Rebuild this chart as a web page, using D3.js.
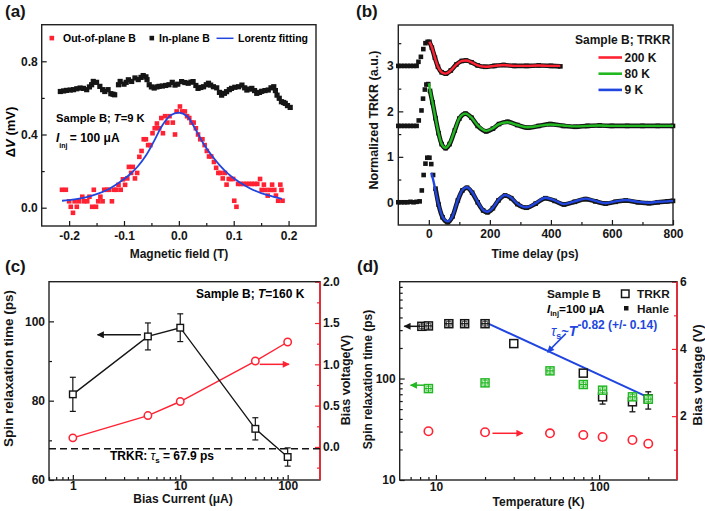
<!DOCTYPE html>
<html><head><meta charset="utf-8">
<script src="https://cdn.jsdelivr.net/npm/d3@7"></script>
<style>
body{margin:0;background:#fff;}
svg{display:block;}
</style></head><body>
<svg id="chart" width="705" height="511"></svg>
<script>
// ================= DATA =================
// (a) Hanle: out-of-plane B (red), in-plane B (black), Lorentz fit
const outPlaneB = [-0.213,-0.206,-0.200,-0.197,-0.193,-0.190,-0.186,-0.182,-0.176,-0.173,-0.167,-0.163,-0.158,-0.155,-0.151,-0.147,-0.143,-0.139,-0.136,-0.131,-0.127,-0.122,-0.118,-0.114,-0.110,-0.106,-0.102,-0.098,-0.094,-0.091,-0.087,-0.084,-0.080,-0.076,-0.072,-0.068,-0.064,-0.060,-0.056,-0.052,-0.048,-0.044,-0.040,-0.036,-0.032,-0.029,-0.025,-0.021,-0.017,-0.011,-0.007,-0.004,0.002,0.006,0.011,0.015,0.019,0.023,0.027,0.031,0.035,0.039,0.043,0.047,0.051,0.055,0.059,0.064,0.068,0.072,0.076,0.080,0.084,0.087,0.091,0.095,0.099,0.101,0.105,0.108,0.113,0.118,0.123,0.128,0.133,0.138,0.143,0.148,0.151,0.155,0.158,0.162,0.166,0.170,0.174,0.177,0.181,0.185,0.187,0.189];
const outPlaneV = [0.098,0.098,0.035,0.005,-0.028,0.035,0.005,0.035,0.060,0.035,0.035,0.060,0.005,0.098,0.005,0.035,0.060,0.035,0.098,0.098,0.098,0.035,0.098,0.098,0.125,0.098,0.155,0.125,0.160,0.223,0.190,0.223,0.160,0.190,0.278,0.310,0.374,0.374,0.342,0.342,0.407,0.434,0.460,0.434,0.490,0.407,0.500,0.465,0.500,0.465,0.400,0.526,0.553,0.526,0.526,0.500,0.490,0.465,0.465,0.434,0.400,0.374,0.374,0.342,0.310,0.280,0.280,0.250,0.218,0.190,0.190,0.160,0.190,0.126,0.157,0.157,0.157,0.038,0.005,0.130,0.130,0.130,0.130,0.130,0.130,0.130,0.130,0.157,0.097,0.126,0.097,0.066,0.097,0.126,0.097,0.066,0.038,0.126,0.097,0.038];
const inPlaneB = [-0.216,-0.210,-0.205,-0.198,-0.192,-0.186,-0.180,-0.174,-0.168,-0.163,-0.159,-0.156,-0.150,-0.144,-0.139,-0.135,-0.129,-0.124,-0.120,-0.117,-0.110,-0.107,-0.100,-0.096,-0.092,-0.086,-0.080,-0.074,-0.069,-0.065,-0.060,-0.058,-0.054,-0.050,-0.045,-0.040,-0.036,-0.030,-0.024,-0.018,-0.012,-0.007,-0.002,0.005,0.011,0.017,0.022,0.026,0.031,0.035,0.040,0.045,0.050,0.054,0.058,0.063,0.069,0.074,0.078,0.083,0.087,0.092,0.096,0.102,0.109,0.115,0.120,0.124,0.129,0.133,0.138,0.142,0.147,0.151,0.157,0.163,0.168,0.173,0.176,0.179,0.183,0.187,0.191,0.194,0.198,0.203];
const inPlaneV = [0.635,0.638,0.641,0.643,0.645,0.650,0.654,0.652,0.645,0.660,0.672,0.690,0.685,0.663,0.645,0.635,0.645,0.623,0.620,0.617,0.672,0.690,0.675,0.685,0.699,0.690,0.709,0.700,0.712,0.722,0.715,0.700,0.672,0.660,0.654,0.660,0.663,0.665,0.668,0.672,0.685,0.670,0.675,0.689,0.684,0.680,0.686,0.689,0.668,0.652,0.657,0.661,0.672,0.680,0.670,0.661,0.655,0.630,0.615,0.625,0.634,0.645,0.652,0.658,0.661,0.670,0.655,0.643,0.648,0.652,0.640,0.625,0.630,0.636,0.640,0.643,0.655,0.661,0.640,0.615,0.598,0.579,0.575,0.570,0.558,0.548];
const lorentzB = [-0.213,-0.19,-0.17,-0.15,-0.13,-0.11,-0.09,-0.075,-0.06,-0.045,-0.03,-0.015,0,0.015,0.03,0.045,0.06,0.075,0.09,0.11,0.13,0.15,0.17,0.188];
const lorentzV = [0.038,0.046,0.057,0.074,0.098,0.135,0.18,0.225,0.285,0.365,0.45,0.505,0.52,0.50,0.43,0.35,0.285,0.23,0.185,0.14,0.105,0.08,0.062,0.048];
const aXTicks = [-0.2,-0.1,0,0.1,0.2], aXLabels = ["-0.2","-0.1","0.0","0.1","0.2"];
const aYTicks = [0,0.4,0.8], aYLabels = ["0.0","0.4","0.8"];

// (b) TRKR traces (black data) and fits
const t9 = [-100,-90,-80,-70,-60,-50,-40,-30,-23,-17,-11,-5,2,8,14,22,32,45,62,78,95,110,125,142,160,178,192,210,228,250,270,290,320,350,382,412,443,478,513,545,579,612,645,685,721,750,782,800];
const v9 = [0,0,0,0,0.01,0,0.01,0.02,0.26,0.6,0.85,0.98,0.98,0.84,0.6,0.3,-0.05,-0.33,-0.44,-0.31,0.04,0.26,0.32,0.21,0.0,-0.18,-0.22,-0.13,0.04,0.15,0.09,-0.04,-0.12,-0.03,0.09,0.03,-0.05,0.01,0.07,0.02,-0.03,0.01,0.04,0.0,-0.02,0.0,0.02,0.03];
const fit9T = [8,14,22,32,45,62,78,95,110,125,142,160,178,192,210,228,250,270,290,320,350,382,412,443,478,513,545,579,612,645,685,721,750,782,800];
const fit9V = [0.65,0.5,0.25,-0.05,-0.32,-0.42,-0.3,0.05,0.27,0.33,0.22,0.01,-0.17,-0.21,-0.12,0.05,0.16,0.1,-0.03,-0.11,-0.02,0.1,0.04,-0.04,0.02,0.08,0.03,-0.02,0.02,0.05,0.01,-0.01,0.01,0.02,0.03];
const t80 = [-100,-90,-80,-70,-60,-50,-40,-33,-24,-19,-13,-8,-2,4,12,22,32,42,55,68,85,100,120,140,160,188,210,230,258,290,325,360,398,440,480,520,560,600,650,700,750,800];
const v80 = [1.68,1.68,1.68,1.68,1.68,1.68,1.68,1.8,2.02,2.28,2.48,2.59,2.6,2.45,2.2,1.85,1.52,1.28,1.19,1.28,1.58,1.84,1.95,1.86,1.68,1.56,1.62,1.72,1.77,1.7,1.64,1.68,1.72,1.68,1.66,1.68,1.69,1.68,1.68,1.68,1.68,1.68];
const fit80T = [0,4,12,22,32,42,55,68,85,100,120,140,160,188,210,230,258,290,325,360,398,440,480,520,560,600,650,700,750,800];
const fit80V = [2.62,2.47,2.2,1.85,1.52,1.28,1.2,1.29,1.59,1.85,1.95,1.86,1.69,1.57,1.63,1.72,1.76,1.7,1.65,1.68,1.71,1.69,1.67,1.68,1.69,1.68,1.68,1.68,1.68,1.68];
const t200 = [-100,-90,-80,-70,-60,-50,-40,-34,-26,-18,-11,-4,2,10,20,30,42,56,72,90,108,122,140,160,185,215,245,280,320,360,400,431];
const v200 = [3.0,3.0,3.0,3.0,3.0,3.0,3.0,3.09,3.2,3.37,3.5,3.53,3.53,3.4,3.18,2.98,2.86,2.83,2.9,3.03,3.11,3.12,3.08,3.01,2.98,3.0,3.02,3.0,3.0,3.01,3.0,2.99];
const fit200T = [2,10,20,30,42,56,72,90,108,122,140,160,185,215,245,280,320,360,400,431];
const fit200V = [3.53,3.41,3.18,2.98,2.86,2.83,2.9,3.03,3.11,3.12,3.08,3.01,2.98,3.0,3.02,3.0,3.0,3.01,3.0,3.0];
const bXTicks = [0,200,400,600,800], bYTicks = [0,1,2,3];
const bLegend = ["200 K","80 K","9 K"];

// (c) bias-current dependence
const currentC = [1,5,10,50,100];
const tauC = [81.6,96.2,98.4,72.9,65.8];
const tauErrC = [4.3,3.4,3.5,2.8,2.3];
const biasC = [0.11,0.38,0.55,1.04,1.27];
const trkrTauC = 67.9;
const cXTicks = [1,10,100];
const cYTicks = [60,80,100];
const cRTicks = [0,0.5,1.0,1.5,2.0], cRLabels = ["0.0","0.5","1.0","1.5","2.0"];

// (d) temperature dependence
const lowT = [8.2,9,12,15,20];
const lowTau = [327,330,347,347,347];
const trkrT = [30,80,105,160,200];
const trkrTau = [221,113,66,59,63];
const trkrErrLo = [null,null,56,47,50];
const trkrErrHi = [null,null,80,70,74];
const hanleT = [9,20,50,80,105,160,200];
const hanleTau = [79.6,90.6,119,87.3,76.8,66,62.6];
const biasT = [9,20,50,80,105,160,200];
const biasD = [1.55,1.52,1.49,1.44,1.38,1.29,1.18];
const fitDT = [20,205];
const fitDTau = [360,64];
const dXTicks = [10,100], dYTicks = [10,100], dRTicks = [2,4,6];

// ================= DRAWING =================
const F = '"Liberation Sans", Arial, Helvetica, sans-serif';
const svg = d3.select("#chart").attr("font-family", F).attr("font-weight", "bold");
const RED = "#ff2233", BLUE = "#2146e0", GREEN = "#22b822", INK = "#151515";

const defs = svg.append("defs");
function arrowMarker(id, color){
  defs.append("marker").attr("id", id).attr("viewBox","0 0 10 10").attr("refX",9).attr("refY",5)
    .attr("markerWidth",9).attr("markerHeight",7).attr("markerUnits","userSpaceOnUse").attr("orient","auto")
    .append("path").attr("d","M0,0L10,5L0,10Z").attr("fill",color);
}
arrowMarker("ak", INK); arrowMarker("ar", RED); arrowMarker("ag", GREEN); arrowMarker("ab", BLUE);

function addAxis(gen, tx, ty, color){
  const g = svg.append("g").attr("transform", `translate(${tx},${ty})`).call(gen);
  g.attr("font-family", F).attr("font-size", 12).attr("font-weight", "bold");
  g.select(".domain").remove();
  g.selectAll(".tick line").attr("stroke", color || INK).attr("stroke-width", 1.2);
  g.selectAll(".tick text").attr("fill", INK);
  return g;
}
function frame(x0, x1, y0, y1, rightColor){
  svg.append("rect").attr("x", x0).attr("y", y1).attr("width", x1 - x0).attr("height", y0 - y1)
    .attr("fill","none").attr("stroke", "#222").attr("stroke-width", 1.4);
  if (rightColor) svg.append("line").attr("x1", x1).attr("x2", x1).attr("y1", y1).attr("y2", y0)
    .attr("stroke", rightColor).attr("stroke-width", 1.6);
}
function label(x, y, str, size, rot, anchor){
  const t = svg.append("text").attr("font-size", size).attr("fill", INK)
    .attr("text-anchor", anchor || "middle").text(str);
  if (rot) t.attr("transform", `translate(${x},${y}) rotate(${rot})`); else t.attr("x", x).attr("y", y);
  return t;
}
function panelTag(x, y, s){ label(x, y, s, 17, 0, "start"); }
const logMinor = (lo, hi) => { const out=[]; for (let e=-1;e<4;e++) for (let m=2;m<10;m++){ const v=m*Math.pow(10,e); if (v>lo && v<hi) out.push(v);} return out; };

// ---------- Panel (a) ----------
{
  const x = d3.scaleLinear([-0.25, 0.25], [41.7, 316]);
  const y = d3.scaleLinear([-0.1, 1.0], [226, 24.7]);
  addAxis(d3.axisBottom(x).tickValues(aXTicks).tickSize(-5).tickPadding(5).tickFormat((d,i)=>aXLabels[i]), 0, 226);
  addAxis(d3.axisBottom(x).tickValues([-0.15,-0.05,0.05,0.15]).tickSize(-3).tickFormat(""), 0, 226);
  addAxis(d3.axisLeft(y).tickValues(aYTicks).tickSize(-5).tickPadding(4).tickFormat((d,i)=>aYLabels[i]), 41.7, 0);
  addAxis(d3.axisLeft(y).tickValues([0.2,0.6]).tickSize(-3).tickFormat(""), 41.7, 0);
  frame(41.7, 316, 226, 24.7);
  const gIn = svg.append("g");
  gIn.selectAll("rect").data(inPlaneB.map((b,i)=>[b,inPlaneV[i]])).join("rect")
    .attr("x", d=>x(d[0])-2.6).attr("y", d=>y(d[1])-2.6).attr("width",5.2).attr("height",5.2).attr("fill", INK);
  const gOut = svg.append("g");
  gOut.selectAll("rect").data(outPlaneB.map((b,i)=>[b,outPlaneV[i]])).join("rect")
    .attr("x", d=>x(d[0])-2.3).attr("y", d=>y(d[1])-2.3).attr("width",4.6).attr("height",4.6).attr("fill", RED);
  svg.append("path").datum(lorentzB.map((b,i)=>[b,lorentzV[i]]))
    .attr("d", d3.line().x(d=>x(d[0])).y(d=>y(d[1])).curve(d3.curveCatmullRom))
    .attr("fill","none").attr("stroke", BLUE).attr("stroke-width", 1.8);
  // legend
  const lg = svg.append("g").attr("font-size", 10.5);
  lg.append("rect").attr("x",49.5).attr("y",35.8).attr("width",4.6).attr("height",4.6).attr("fill",RED);
  lg.append("text").attr("x",63).attr("y",42).text("Out-of-plane B");
  lg.append("rect").attr("x",149.5).attr("y",35.8).attr("width",4.6).attr("height",4.6).attr("fill",INK);
  lg.append("text").attr("x",159).attr("y",42).text("In-plane B");
  lg.append("line").attr("x1",216.5).attr("x2",233.5).attr("y1",38.3).attr("y2",38.3).attr("stroke",BLUE).attr("stroke-width",1.5);
  lg.append("text").attr("x",238).attr("y",42).text("Lorentz fitting");
  // annotations
  const t1 = svg.append("text").attr("x",56).attr("y",121.5).attr("font-size",11.2);
  t1.append("tspan").text("Sample B; ");
  t1.append("tspan").attr("font-style","italic").text("T");
  t1.append("tspan").text("=9 K");
  const t2 = svg.append("text").attr("x",56).attr("y",141.5).attr("font-size",12);
  t2.append("tspan").attr("font-style","italic").text("I");
  t2.append("tspan").attr("font-size",7).attr("dy",6).text("inj");
  t2.append("tspan").attr("dy",-6).attr("dx",-1).text(" = 100 μA");
  label(179, 258, "Magnetic field (T)", 12);
  const yl = svg.append("text").attr("transform","translate(15,132) rotate(-90)").attr("text-anchor","middle").attr("font-size",13);
  yl.append("tspan").text("Δ");
  yl.append("tspan").attr("font-style","italic").text("V");
  yl.append("tspan").text(" (mV)");
  panelTag(5, 17, "(a)");
}

// ---------- Panel (b) ----------
{
  const x = d3.scaleLinear([-100, 800], [398.3, 673]);
  const y = d3.scaleLinear([-0.5, 3.9], [225, 25]);
  addAxis(d3.axisBottom(x).tickValues(bXTicks).tickSize(-5).tickPadding(4.5).tickFormat(d=>d), 0, 225);
  addAxis(d3.axisBottom(x).tickValues([100,300,500,700]).tickSize(-3).tickFormat(""), 0, 225);
  addAxis(d3.axisLeft(y).tickValues(bYTicks).tickSize(-5).tickPadding(4.5).tickFormat(d=>d), 398.3, 0);
  addAxis(d3.axisLeft(y).tickValues([0.5,1.5,2.5,3.5]).tickSize(-3).tickFormat(""), 398.3, 0);
  frame(398.3, 673, 225, 25);
  const traces = [
    {t:t200, v:v200, ft:fit200T, fv:fit200V, c:RED, band:0},
    {t:t80, v:v80, ft:fit80T, fv:fit80V, c:GREEN, band:0},
    {t:t9, v:v9, ft:fit9T, fv:fit9V, c:BLUE, band:20}
  ];
  const line = d3.line().x(d=>x(d[0])).y(d=>y(d[1])).curve(d3.curveMonotoneX);
  traces.forEach(tr => {
    const pts = tr.t.map((t,i)=>[t, tr.v[i]]);
    svg.append("path").datum(pts.filter(p=>p[0]>=tr.band)).attr("d", line)
      .attr("fill","none").attr("stroke", INK).attr("stroke-width", 4.6);
    svg.append("g").selectAll("rect").data(pts).join("rect")
      .attr("x", d=>x(d[0])-2.3).attr("y", d=>y(d[1])-2.3).attr("width",4.6).attr("height",4.6).attr("fill",INK);
  });
  traces.forEach(tr => {
    svg.append("path").datum(tr.ft.map((t,i)=>[t, tr.fv[i]])).attr("d", line)
      .attr("fill","none").attr("stroke", tr.c).attr("stroke-width", 2.4);
  });
  // legend
  label(575, 44, "Sample B; TRKR", 12, 0, "start");
  [RED, GREEN, BLUE].forEach((c,i) => {
    const yy = 57.5 + i*16.2;
    svg.append("line").attr("x1",598.5).attr("x2",622).attr("y1",yy).attr("y2",yy).attr("stroke",c).attr("stroke-width",2.6);
    label(624.5, yy+4.3, bLegend[i], 12, 0, "start");
  });
  label(535, 258, "Time delay (ps)", 12);
  label(378, 120, "Normalized TRKR (a.u.)", 12.5, -90);
  panelTag(356, 17, "(b)");
}

// ---------- Panel (c) ----------
{
  const x = d3.scaleLog([0.6, 200], [49, 320]);
  const yL = d3.scaleLinear([60, 110], [480, 281.7]);
  const yR = d3.scaleLinear([-0.4, 2.0], [480, 281.7]);
  addAxis(d3.axisBottom(x).tickValues(cXTicks).tickSize(-5).tickPadding(1.5).tickFormat(d=>d), 0, 480);
  addAxis(d3.axisBottom(x).tickValues(logMinor(0.6,200)).tickSize(-3).tickFormat(""), 0, 480);
  addAxis(d3.axisLeft(yL).tickValues(cYTicks).tickSize(-5).tickPadding(4).tickFormat(d=>d), 49, 0);
  addAxis(d3.axisLeft(yL).tickValues([70,90]).tickSize(-3).tickFormat(""), 49, 0);
  addAxis(d3.axisRight(yR).tickValues(cRTicks).tickSize(-5).tickPadding(3).tickFormat((d,i)=>cRLabels[i]), 320, 0, RED);
  addAxis(d3.axisRight(yR).tickValues([-0.25,0.25,0.75,1.25,1.75]).tickSize(-3).tickFormat(""), 320, 0, RED);
  frame(49, 320, 480, 281.7, RED);
  // dashed TRKR reference
  svg.append("line").attr("x1",49).attr("x2",320).attr("y1",yL(trkrTauC)).attr("y2",yL(trkrTauC))
    .attr("stroke",INK).attr("stroke-width",1.5).attr("stroke-dasharray","7,4");
  // red bias voltage
  const ptsR = currentC.map((c,i)=>[c, biasC[i]]);
  svg.append("path").datum(ptsR).attr("d", d3.line().x(d=>x(d[0])).y(d=>yR(d[1])))
    .attr("fill","none").attr("stroke",RED).attr("stroke-width",1.4);
  svg.append("g").selectAll("circle").data(ptsR).join("circle")
    .attr("cx",d=>x(d[0])).attr("cy",d=>yR(d[1])).attr("r",3.7).attr("fill","#fff").attr("stroke",RED).attr("stroke-width",1.5);
  // black spin relaxation
  const ptsK = currentC.map((c,i)=>[c, tauC[i], tauErrC[i]]);
  svg.append("path").datum(ptsK).attr("d", d3.line().x(d=>x(d[0])).y(d=>yL(d[1])))
    .attr("fill","none").attr("stroke",INK).attr("stroke-width",1.4);
  const eb = svg.append("g").attr("stroke",INK).attr("stroke-width",1.2);
  ptsK.forEach(d => {
    const cx = x(d[0]);
    eb.append("line").attr("x1",cx).attr("x2",cx).attr("y1",yL(d[1]+d[2])).attr("y2",yL(d[1]-d[2]));
    eb.append("line").attr("x1",cx-3).attr("x2",cx+3).attr("y1",yL(d[1]+d[2])).attr("y2",yL(d[1]+d[2]));
    eb.append("line").attr("x1",cx-3).attr("x2",cx+3).attr("y1",yL(d[1]-d[2])).attr("y2",yL(d[1]-d[2]));
  });
  svg.append("g").selectAll("rect").data(ptsK).join("rect")
    .attr("x",d=>x(d[0])-3.3).attr("y",d=>yL(d[1])-3.3).attr("width",6.6).attr("height",6.6)
    .attr("fill","#fff").attr("stroke",INK).attr("stroke-width",1.4);
  // arrows
  svg.append("line").attr("x1",x(4.3)).attr("x2",x(1.7)).attr("y1",yL(96.6)).attr("y2",yL(96.6))
    .attr("stroke",INK).attr("stroke-width",1.5).attr("marker-end","url(#ak)");
  svg.append("line").attr("x1",x(55)).attr("x2",x(103)).attr("y1",yR(1.0)).attr("y2",yR(1.0))
    .attr("stroke",RED).attr("stroke-width",1.5).attr("marker-end","url(#ar)");
  // texts
  const s1 = svg.append("text").attr("x",196).attr("y",297.5).attr("font-size",12);
  s1.append("tspan").text("Sample B;  ");
  s1.append("tspan").attr("font-style","italic").text("T");
  s1.append("tspan").text("=160 K");
  const s2 = svg.append("text").attr("x",110).attr("y",460).attr("font-size",12);
  s2.append("tspan").text("TRKR: ");
  s2.append("tspan").attr("font-style","italic").attr("font-weight","normal").text("τ");
  s2.append("tspan").attr("font-size",8).attr("dy",3).text("s");
  s2.append("tspan").attr("dy",-3).text(" =  67.9 ps");
  label(183, 502.5, "Bias Current (μA)", 12);
  label(13.3, 368.5, "Spin relaxation time (ps)", 13.5, -90);
  label(350, 380, "Bias voltage(V)", 12.5, -90);
  panelTag(5, 272, "(c)");
}

// ---------- Panel (d) ----------
{
  const x = d3.scaleLog([6, 300], [399.7, 677]);
  const yL = d3.scaleLog([10, 900], [480, 281.7]);
  const yR = d3.scaleLinear([0.1, 6], [480, 281.7]);
  addAxis(d3.axisBottom(x).tickValues(dXTicks).tickSize(-5).tickPadding(2).tickFormat(d=>d), 0, 480);
  addAxis(d3.axisBottom(x).tickValues(logMinor(6,300)).tickSize(-3).tickFormat(""), 0, 480);
  addAxis(d3.axisLeft(yL).tickValues(dYTicks).tickSize(-5).tickPadding(4).tickFormat(d=>d), 399.7, 0);
  addAxis(d3.axisLeft(yL).tickValues(logMinor(10,900)).tickSize(-3).tickFormat(""), 399.7, 0);
  addAxis(d3.axisRight(yR).tickValues(dRTicks).tickSize(-5).tickPadding(3).tickFormat(d=>d), 677, 0, RED);
  addAxis(d3.axisRight(yR).tickValues([1,3,5]).tickSize(-3).tickFormat(""), 677, 0, RED);
  frame(399.7, 677, 480, 281.7, RED);
  // fit line
  svg.append("path").datum(fitDT.map((t,i)=>[t, fitDTau[i]]))
    .attr("d", d3.line().x(d=>x(d[0])).y(d=>yL(d[1])))
    .attr("fill","none").attr("stroke",BLUE).attr("stroke-width",2);
  // red circles
  svg.append("g").selectAll("circle").data(biasT.map((t,i)=>[t,biasD[i]])).join("circle")
    .attr("cx",d=>x(d[0])).attr("cy",d=>yR(d[1])).attr("r",4.2).attr("fill","none").attr("stroke",RED).attr("stroke-width",1.6);
  // hatched symbols
  function hatched(data, color){
    const g = svg.append("g");
    data.forEach(d => {
      const cx = x(d[0]), cy = yL(d[1]), h = 4;
      g.append("rect").attr("x",cx-h).attr("y",cy-h).attr("width",2*h).attr("height",2*h)
        .attr("fill","#fff").attr("stroke",color).attr("stroke-width",1.5);
      g.append("rect").attr("x",cx-2.3).attr("y",cy-2.3).attr("width",4.6).attr("height",4.6)
        .attr("fill","none").attr("stroke",color).attr("stroke-width",1).attr("opacity",0.7);
      g.append("line").attr("x1",cx-h).attr("x2",cx+h).attr("y1",cy).attr("y2",cy).attr("stroke",color).attr("stroke-width",1.2);
      g.append("line").attr("x1",cx).attr("x2",cx).attr("y1",cy-h).attr("y2",cy+h).attr("stroke",color).attr("stroke-width",1.2);
    });
  }
  hatched(lowT.map((t,i)=>[t, lowTau[i]]), INK);
  // TRKR open squares with error bars
  const eb = svg.append("g").attr("stroke",INK).attr("stroke-width",1.3);
  trkrT.forEach((t,i) => {
    if (trkrErrLo[i] == null) return;
    const cx = x(t);
    eb.append("line").attr("x1",cx).attr("x2",cx).attr("y1",yL(trkrErrHi[i])).attr("y2",yL(trkrErrLo[i]));
    eb.append("line").attr("x1",cx-3).attr("x2",cx+3).attr("y1",yL(trkrErrHi[i])).attr("y2",yL(trkrErrHi[i]));
    eb.append("line").attr("x1",cx-3).attr("x2",cx+3).attr("y1",yL(trkrErrLo[i])).attr("y2",yL(trkrErrLo[i]));
  });
  svg.append("g").selectAll("rect").data(trkrT.map((t,i)=>[t,trkrTau[i]])).join("rect")
    .attr("x",d=>x(d[0])-4).attr("y",d=>yL(d[1])-4).attr("width",8).attr("height",8)
    .attr("fill","#fff").attr("stroke",INK).attr("stroke-width",1.5);
  hatched(hanleT.map((t,i)=>[t, hanleTau[i]]), GREEN);
  // arrows
  svg.append("line").attr("x1",x(8.0)).attr("x2",x(6.4)).attr("y1",yL(327)).attr("y2",yL(327))
    .attr("stroke",INK).attr("stroke-width",1.5).attr("marker-end","url(#ak)");
  svg.append("line").attr("x1",x(8.5)).attr("x2",x(7.0)).attr("y1",yL(86)).attr("y2",yL(86))
    .attr("stroke",GREEN).attr("stroke-width",1.5).attr("marker-end","url(#ag)");
  svg.append("line").attr("x1",x(22.2)).attr("x2",x(34)).attr("y1",yR(1.49)).attr("y2",yR(1.49))
    .attr("stroke",RED).attr("stroke-width",1.5).attr("marker-end","url(#ar)");
  svg.append("line").attr("x1",x(62.5)).attr("x2",x(48.3)).attr("y1",yL(277)).attr("y2",yL(182))
    .attr("stroke",BLUE).attr("stroke-width",1.5).attr("marker-end","url(#ab)");
  // blue formula
  const bf = svg.append("text").attr("x",551).attr("y",336).attr("fill",BLUE).attr("font-size",14);
  bf.append("tspan").attr("font-style","italic").attr("font-weight","normal").text("τ");
  bf.append("tspan").attr("font-size",9).attr("dy",3).text("s");
  bf.append("tspan").attr("dy",-3).attr("font-size",13).text("~");
  bf.append("tspan").attr("font-style","italic").text("T");
  bf.append("tspan").attr("font-size",12).attr("dy",-7).text("-0.82 (+/- 0.14)");
  // text + legend
  label(547, 298, "Sample B", 11.8, 0, "start");
  const il = svg.append("text").attr("x",547).attr("y",313).attr("font-size",11.8);
  il.append("tspan").attr("font-style","italic").text("I");
  il.append("tspan").attr("font-size",7.5).attr("dy",3).text("inj");
  il.append("tspan").attr("dy",-3).text("=100 μA");
  svg.append("rect").attr("x",621.5).attr("y",290).attr("width",7.5).attr("height",7.5)
    .attr("fill","#fff").attr("stroke",INK).attr("stroke-width",1.5);
  label(637, 298, "TRKR", 11.8, 0, "start");
  svg.append("rect").attr("x",624).attr("y",306).attr("width",4.5).attr("height",4.5).attr("fill",INK);
  label(637, 313, "Hanle", 11.8, 0, "start");
  label(538.5, 506, "Temperature (K)", 12);
  label(372, 379.5, "Spin relaxation time (ps)", 12, -90);
  label(702, 375, "Bias voltage (V)", 13.5, -90);
  panelTag(357, 272, "(d)");
}
</script>
</body></html>
